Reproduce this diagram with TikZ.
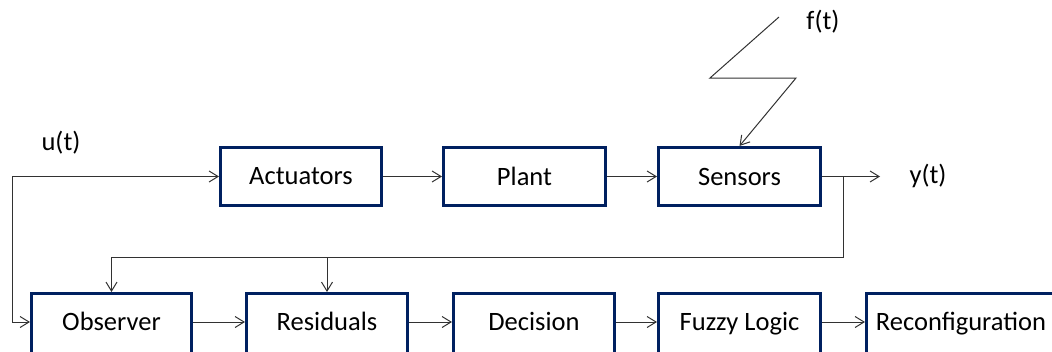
\documentclass[tikz,border=0pt]{standalone}
\usepackage{fontspec}
\setmainfont{Carlito}
\usetikzlibrary{arrows.meta}
\definecolor{boxblue}{RGB}{0,32,96}
\definecolor{linegray}{RGB}{50,50,50}
\begin{document}
\begin{tikzpicture}[x=1pt,y=-1pt,
  blk/.style={draw=boxblue,line width=3pt,rectangle,inner sep=0pt,minimum height=58pt,
    font=\fontsize{26.5}{30}\selectfont},
  lowblk/.style={blk,minimum height=70pt,text height=18pt,text depth=13.6pt},
  lbl/.style={inner sep=0pt,font=\fontsize{26.5}{30}\selectfont},
  conn/.style={draw=linegray,line width=1pt},
  arr/.style={conn,-{Straight Barb[length=9pt,width=11pt,line width=1pt]}},
  lo/.style={yshift=6.5pt}]
\useasboundingbox (0,0) rectangle (1052,351);
\clip (0,0) rectangle (1052,351);
% blocks
\node[blk,minimum width=161pt] (act) at (301,176.5) {Actuators};
\node[blk,minimum width=162pt] (plant) at (524.5,176.5) {Plant};
\node[blk,minimum width=162pt] (sens) at (739.5,176.5) {Sensors};
\node[lowblk,minimum width=160pt] (obs) at (111.5,328.5) {Observer};
\node[lowblk,minimum width=161pt] (res) at (327,328.5) {Residuals};
\node[lowblk,minimum width=161pt] (dec) at (534,328.5) {Decision};
\node[lowblk,minimum width=162pt] (fuz) at (739.5,328.5) {Fuzzy Logic};
\node[lowblk,minimum width=189pt] (rec) at (961,328.5) {Reconfiguration};
% labels
\node[lbl] (ulbl) at (61,143) {u(t)};
\node[lbl] (ylbl) at (928,176) {y(t)};
\node[lbl] (flbl) at (823,22) {f(t)};
% coordinates
\coordinate (uc) at (12,176.5);
\coordinate (yout) at (880,176.5);
\coordinate (br) at (843,176.5);
\coordinate (fbk) at (843,257);
\coordinate (f1) at (779,17);
\coordinate (f2) at (710,78);
\coordinate (f3) at (796,78);
\coordinate (obsw) at ([lo]obs.west);
\coordinate (obse) at ([lo]obs.east);
\coordinate (resw) at ([lo]res.west);
\coordinate (rese) at ([lo]res.east);
\coordinate (decw) at ([lo]dec.west);
\coordinate (dece) at ([lo]dec.east);
\coordinate (fuzw) at ([lo]fuz.west);
\coordinate (fuze) at ([lo]fuz.east);
\coordinate (recw) at ([lo]rec.west);
% connectors
\draw[arr] (uc) -- (act.west);
\draw[arr] (uc) -- (uc |- obsw) -- (obsw);
\draw[arr] (act.east) -- (plant.west);
\draw[arr] (plant.east) -- (sens.west);
\draw[arr] (sens.east) -- (yout);
\draw[arr] (br) -- (fbk) -- (fbk -| obs.north) -- (obs.north);
\draw[arr] (fbk -| res.north) -- (res.north);
\draw[arr] (obse) -- (resw);
\draw[arr] (rese) -- (decw);
\draw[arr] (dece) -- (fuzw);
\draw[arr] (fuze) -- (recw);
\draw[arr,line join=miter] (f1) -- (f2) -- (f3) -- (sens.north);
\end{tikzpicture}
\end{document}
